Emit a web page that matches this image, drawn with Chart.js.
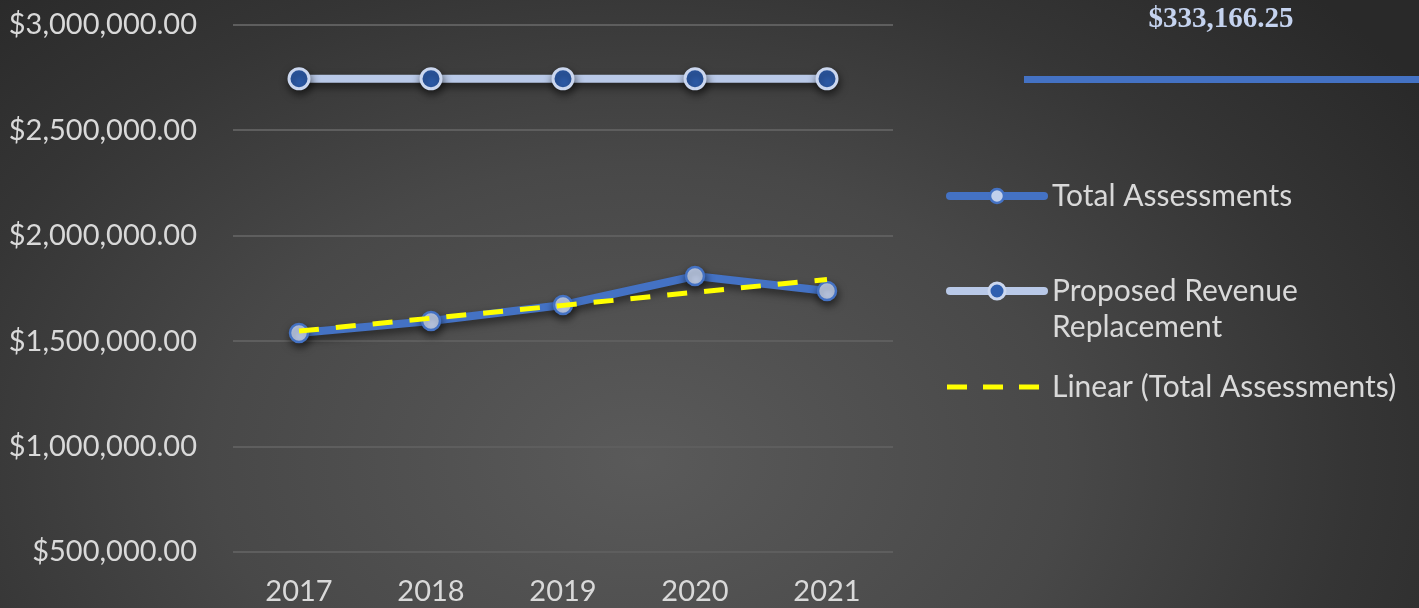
<!DOCTYPE html>
<html><head><meta charset="utf-8">
<script src="https://cdn.jsdelivr.net/npm/chart.js@4.4.0/dist/chart.umd.min.js"></script>
<style>
html,body{margin:0;padding:0;width:1419px;height:608px;overflow:hidden;}
body{background:radial-gradient(ellipse 950px 660px at 640px 460px,#5a5a5a 0%,#484848 45%,#353535 75%,#292929 100%);}
#wrap{position:relative;width:1419px;height:608px;}
canvas{display:block;}
</style></head>
<body><div id="wrap"><canvas id="c" width="1419" height="608"></canvas></div>
<script>
const years = ['2017', '2018', '2019', '2020', '2021'];
const totalAssessments = [1539000, 1596000, 1672000, 1809000, 1738000];
const proposedRevenue = [2745000, 2745000, 2745000, 2745000, 2745000];
const linearTrend = [1548000, 1609000, 1670000, 1732000, 1793000];
const yTickValues = [500000, 1000000, 1500000, 2000000, 2500000, 3000000];
const seriesNames = ['Total Assessments', 'Proposed Revenue Replacement', 'Linear (Total Assessments)'];
const legendLines = [['Total Assessments'], ['Proposed Revenue', 'Replacement'], ['Linear (Total Assessments)']];
const annotationText = '$333,166.25';

const FONT = 'Lato, "Open Sans", sans-serif';
const TEXT = '#d9d9d9';
const BLUE = '#4472c4';
const LIGHT = '#b9c9e8';
const DARK = '#2f5faf';
const YELLOW = '#ffff00';

const fmt = v => '$' + Number(v).toLocaleString('en-US', {minimumFractionDigits: 2, maximumFractionDigits: 2});

const shadowPlugin = {
  id: 'shadow',
  beforeDatasetDraw(chart, args) {
    const ctx = chart.ctx;
    ctx.save();
    if (args.index !== 2) {
      ctx.shadowColor = 'rgba(0,0,0,0.55)';
      ctx.shadowBlur = 8;
      ctx.shadowOffsetX = 1;
      ctx.shadowOffsetY = 4;
    }
  },
  afterDatasetDraw(chart) { chart.ctx.restore(); }
};

const decorPlugin = {
  id: 'decor',
  afterDraw(chart) {
    const ctx = chart.ctx;
    ctx.save();
    ctx.font = 'bold 29px "Liberation Serif", "DejaVu Serif", serif';
    ctx.fillStyle = '#c5d3ef';
    ctx.textAlign = 'center';
    ctx.textBaseline = 'alphabetic';
    ctx.fillText(annotationText, 1221, 27);
    ctx.fillStyle = BLUE;
    ctx.fillRect(1024, 76, 395, 7);

    const x0 = 950, x1 = 1044, mx = 997, tx = 1052;
    const ys = [196, 291, 387];
    const ds = chart.data.datasets;
    ctx.lineCap = 'round';
    ctx.strokeStyle = ds[0].borderColor; ctx.lineWidth = 8; ctx.setLineDash([]);
    ctx.beginPath(); ctx.moveTo(x0, ys[0]); ctx.lineTo(x1, ys[0]); ctx.stroke();
    ctx.beginPath(); ctx.arc(mx, ys[0], 7, 0, Math.PI * 2);
    ctx.fillStyle = ds[0].pointBackgroundColor; ctx.fill();
    ctx.lineWidth = 2.5; ctx.strokeStyle = ds[0].pointBorderColor; ctx.stroke();
    ctx.strokeStyle = ds[1].borderColor; ctx.lineWidth = 8;
    ctx.beginPath(); ctx.moveTo(x0, ys[1]); ctx.lineTo(x1, ys[1]); ctx.stroke();
    ctx.beginPath(); ctx.arc(mx, ys[1], 8, 0, Math.PI * 2);
    ctx.fillStyle = ds[1].pointBackgroundColor; ctx.fill();
    ctx.lineWidth = 3; ctx.strokeStyle = ds[1].pointBorderColor; ctx.stroke();
    ctx.lineCap = 'butt';
    ctx.strokeStyle = ds[2].borderColor; ctx.lineWidth = 5; ctx.setLineDash([20, 16]);
    ctx.beginPath(); ctx.moveTo(947, ys[2]); ctx.lineTo(1044, ys[2]); ctx.stroke();
    ctx.setLineDash([]);

    ctx.font = '30px ' + FONT;
    ctx.fillStyle = TEXT;
    ctx.textAlign = 'left';
    ctx.textBaseline = 'middle';
    ctx.fillText(legendLines[0][0], tx, ys[0]);
    ctx.fillText(legendLines[1][0], tx, ys[1]);
    ctx.fillText(legendLines[1][1], tx, ys[1] + 36);
    ctx.fillText(legendLines[2][0], tx, ys[2]);
    ctx.restore();
  }
};

new Chart(document.getElementById('c'), {
  type: 'line',
  data: {
    labels: years,
    datasets: [
      {
        label: seriesNames[0], data: totalAssessments, order: 1,
        borderColor: BLUE, borderWidth: 8,
        pointBackgroundColor: '#c2d0ec', pointBorderColor: BLUE, pointBorderWidth: 2.5,
        pointRadius: 9, pointHoverRadius: 9, tension: 0
      },
      {
        label: seriesNames[1], data: proposedRevenue, order: 2,
        borderColor: LIGHT, borderWidth: 8,
        pointBackgroundColor: DARK, pointBorderColor: '#cbd7ef', pointBorderWidth: 3,
        pointRadius: 10, pointHoverRadius: 10, tension: 0
      },
      {
        label: seriesNames[2], data: linearTrend, order: 0,
        borderColor: YELLOW, borderWidth: 5, borderDash: [20, 17],
        pointRadius: 0, pointHoverRadius: 0, tension: 0
      }
    ]
  },
  options: {
    responsive: false, animation: false, devicePixelRatio: 1,
    layout: {autoPadding: false, padding: {top: 25, right: 526, bottom: 0, left: 0}},
    plugins: {legend: {display: false}, tooltip: {enabled: false}},
    scales: {
      x: {
        offset: true,
        grid: {display: false, drawTicks: false},
        border: {display: false},
        ticks: {color: TEXT, font: {family: FONT, size: 29}, padding: 22, maxRotation: 0},
        afterFit(s) { s.height = 56; s.paddingTop = 0; s.paddingBottom = 0; }
      },
      y: {
        min: 500000, max: 3000000,
        afterBuildTicks(s) { s.ticks = yTickValues.map(v => ({value: v})); },
        grid: {color: '#5e5e5e', lineWidth: 2, drawTicks: false},
        border: {display: false},
        ticks: {color: TEXT, font: {family: FONT, size: 29}, padding: 36, callback: v => fmt(v)},
        afterFit(s) { s.width = 233; s.paddingTop = 0; s.paddingBottom = 0; }
      }
    }
  },
  plugins: [shadowPlugin, decorPlugin]
});
</script>
</body></html>
